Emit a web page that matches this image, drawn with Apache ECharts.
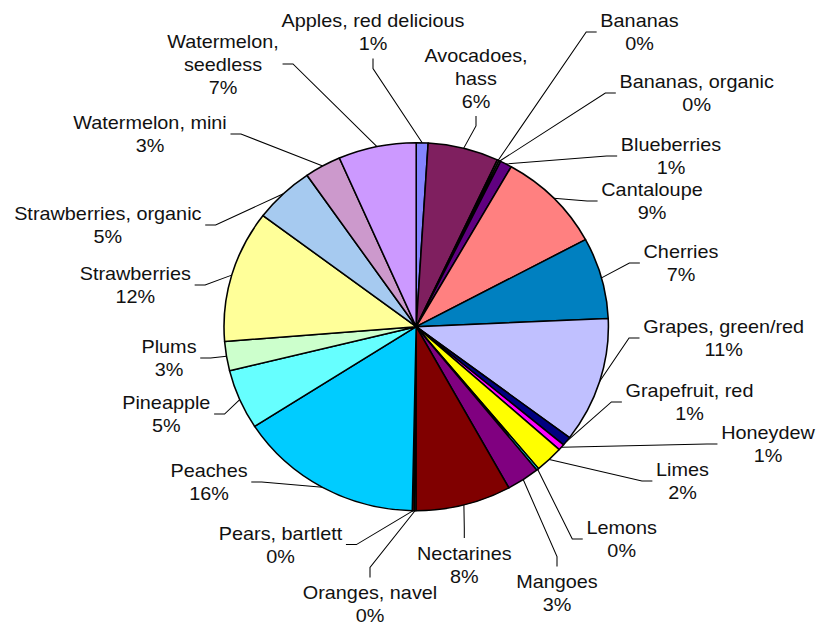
<!DOCTYPE html>
<html>
<head>
<meta charset="utf-8">
<script src="https://cdn.jsdelivr.net/npm/echarts/dist/echarts.min.js"></script>
<style>
html, body { margin: 0; padding: 0; background: #ffffff; overflow: hidden; }
#chart { width: 782.2px; height: 628px; transform: scaleX(1.0446); transform-origin: 0 0; }
</style>
</head>
<body>
<div id="chart"></div>
<script>
// ---- data ----
const categories = [
  'Apples, red delicious', 'Avocadoes,\nhass', 'Bananas', 'Bananas, organic', 'Blueberries',
  'Cantaloupe', 'Cherries', 'Grapes, green/red', 'Grapefruit, red', 'Honeydew',
  'Limes', 'Lemons', 'Mangoes', 'Nectarines', 'Oranges, navel', 'Pears, bartlett',
  'Peaches', 'Pineapple', 'Plums', 'Strawberries', 'Strawberries, organic',
  'Watermelon, mini', 'Watermelon,\nseedless'
];
const values = [
  1.0, 6.0, 0.15, 0.15, 1.0,
  9.0, 7.2, 11.1, 0.8, 0.55,
  2.4, 0.2, 2.8, 8.1, 0.15, 0.15,
  15.7, 5.3, 2.6, 11.7, 5.1,
  3.1, 6.6
];

// ---- styles / layout (kept apart from the data) ----
const sliceColors = [
  '#8484FF', '#7F1F5F', '#FFFFCC', '#CCFFFF', '#600080',
  '#FF8080', '#0080C0', '#C0C0FF', '#000080', '#FF00FF',
  '#FFFF00', '#00FFFF', '#800080', '#800000', '#008080', '#FF0000',
  '#00CCFF', '#66FFFF', '#CCFFCC', '#FFFF99', '#A6CAF0',
  '#CC99CC', '#CC99FF'
];
const SX = 1.0446; // horizontal stretch of the picture
// label block centres in picture pixels and the side the leader line attaches to
const labelCentersX = [373, 476, 639.5, 696.7, 671, 652, 681, 723.7, 689.5, 768, 682.5, 621.7, 557, 464.3, 370, 280.5, 209, 166.3, 169, 135.3, 107.8, 150, 223];
const labelCentersY = [32, 78, 32, 93, 156, 201, 263, 338, 402, 444, 481, 539, 593, 564.6, 604, 544.6, 482, 414, 358, 285, 225, 134, 64];
const labelSides = ['b','b','l','l','l','l','l','l','l','l','l','l','t','t','t','r','r','r','r','r','r','r','r'];

const total = values.reduce((a, b) => a + b, 0);

const chart = echarts.init(document.getElementById('chart'), null, { renderer: 'svg' });
chart.setOption({
  animation: false,
  backgroundColor: '#ffffff',
  series: [{
    type: 'pie',
    center: [416.2 / SX, 326.7],
    radius: 184,
    startAngle: 90,
    clockwise: true,
    avoidLabelOverlap: false,
    minShowLabelAngle: 0,
    silent: true,
    data: categories.map((c, i) => ({
      name: c,
      value: values[i],
      itemStyle: { color: sliceColors[i] }
    })),
    itemStyle: { borderColor: '#000000', borderWidth: 1.5 },
    label: {
      show: true,
      position: 'outside',
      color: '#111111',
      fontFamily: '"Liberation Sans", Arial, sans-serif',
      fontSize: 19,
      lineHeight: 23,
      align: 'center',
      formatter: p => p.name + '\n' + Math.round(p.value / total * 100) + '%'
    },
    labelLine: {
      show: true,
      length: 10,
      length2: 10,
      smooth: false,
      lineStyle: { color: '#000000', width: 1 }
    },
    labelLayout: function (params) {
      const i = params.dataIndex;
      const cx = labelCentersX[i] / SX;
      const cy = labelCentersY[i];
      const w = params.labelRect.width;
      const h = params.labelRect.height;
      const gap = 3.5, stub = 10;
      let p2, p1;
      switch (labelSides[i]) {
        case 'l': p2 = [cx - w / 2 - gap, cy]; p1 = [p2[0] - stub, cy]; break;
        case 'r': p2 = [cx + w / 2 + gap, cy]; p1 = [p2[0] + stub, cy]; break;
        case 't': p2 = [cx, cy - h / 2 - gap]; p1 = [cx, p2[1] - stub]; break;
        default:  p2 = [cx, cy + h / 2 + gap]; p1 = [cx, p2[1] + stub]; break;
      }
      const p0 = params.labelLinePoints ? params.labelLinePoints[0] : p1;
      return {
        x: cx, y: cy, align: 'center', verticalAlign: 'middle',
        labelLinePoints: [p0, p1, p2]
      };
    }
  }]
});
</script>
</body>
</html>
